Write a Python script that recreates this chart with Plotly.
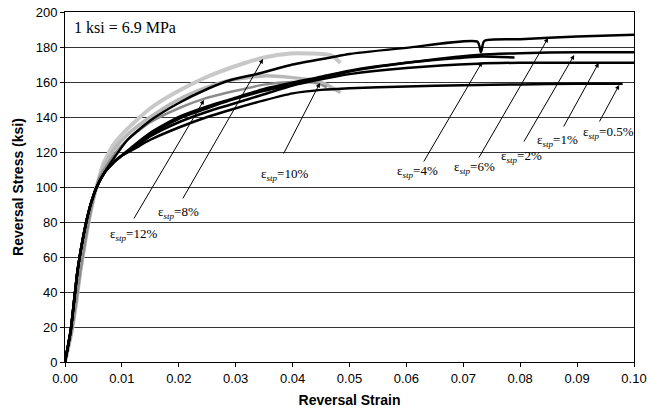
import plotly.graph_objects as go

# ---- data ----
early_black_x = [0, 0.001, 0.0016, 0.0022, 0.003, 0.0038, 0.0045, 0.0055, 0.007, 0.0085, 0.01]
early_black_y = [0, 18, 35, 52, 68, 81, 90, 99.5, 108.5, 114, 118]
early_gray_x = [0, 0.0012, 0.002, 0.0027, 0.0035, 0.0042, 0.0052, 0.006]
early_gray_y = [0, 18, 35, 52, 68, 81, 96, 105]

strain_05 = early_black_x + [0.012, 0.015, 0.02, 0.025, 0.029, 0.035, 0.04, 0.045, 0.05, 0.06, 0.07, 0.08, 0.09, 0.098]
stress_05 = early_black_y + [121.5, 127, 134, 140, 144, 149.5, 153.5, 155.5, 156.5, 157.5, 158.2, 158.6, 159, 159]

strain_1 = early_black_x + [0.012, 0.015, 0.02, 0.025, 0.029, 0.035, 0.04, 0.045, 0.05, 0.06, 0.0725, 0.08, 0.09, 0.1]
stress_1 = early_black_y + [122, 129, 137, 143, 147, 153, 158, 161.5, 164.5, 168, 170.5, 171, 171, 171]

strain_2 = early_black_x + [0.012, 0.015, 0.02, 0.025, 0.029, 0.035, 0.0437, 0.05, 0.06, 0.0725, 0.08, 0.09, 0.1]
stress_2 = early_black_y + [123, 130, 139, 145, 149.5, 155, 161, 166, 171, 175.5, 176.5, 177, 177]

strain_4 = early_black_x + [0.012, 0.015, 0.02, 0.025, 0.029, 0.035, 0.045, 0.05, 0.06, 0.0725, 0.079]
stress_4 = early_black_y + [123.5, 131, 140, 146, 150, 156, 163, 166.5, 171, 174.5, 174]

strain_6 = early_black_x[:-2] + [0.0085, 0.011, 0.015, 0.02, 0.025, 0.029, 0.0343, 0.04, 0.0467, 0.05, 0.06, 0.0725, 0.0731, 0.0737, 0.08, 0.09, 0.1]
stress_6 = early_black_y[:-2] + [116, 127, 138, 148, 156, 161, 165, 170, 174, 176, 179.5, 183, 177, 183.5, 184.5, 186, 187]

strain_8 = early_gray_x + [0.0067, 0.0085, 0.0109, 0.015, 0.02, 0.025, 0.029, 0.035, 0.0396, 0.043, 0.0467, 0.0484]
stress_8 = early_gray_y + [113, 124, 133, 145, 155, 163, 168, 174, 176.3, 176.3, 175.3, 171]

strain_10 = early_gray_x + [0.0067, 0.0085, 0.011, 0.015, 0.02, 0.025, 0.029, 0.035, 0.04, 0.0437, 0.046, 0.0484]
stress_10 = early_gray_y + [111, 121, 130, 140, 150, 157, 161, 163.5, 162.5, 161, 158.5, 154]

strain_12 = early_gray_x + [0.0067, 0.0085, 0.011, 0.015, 0.02, 0.0245, 0.03, 0.035, 0.04, 0.044, 0.046]
stress_12 = early_gray_y + [109, 118, 127, 137, 145, 150.5, 155, 158.5, 160, 159.5, 157]

label_texts = ["12%", "8%", "10%", "4%", "6%", "2%", "1%", "0.5%"]

# ---- figure ----
fig = go.Figure()

gray_series = [(strain_8, stress_8, "#c8c8c8", 4), (strain_10, stress_10, "#b8b8b8", 3.5),
               (strain_12, stress_12, "#8c8c8c", 2.5)]
black_series = [(strain_05, stress_05), (strain_1, stress_1), (strain_2, stress_2),
                (strain_4, stress_4), (strain_6, stress_6)]

for xs, ys, col, w in gray_series:
    fig.add_trace(go.Scatter(x=xs, y=ys, mode="lines",
                             line=dict(color=col, width=w, shape="spline", smoothing=0.6),
                             hoverinfo="skip"))
for xs, ys in black_series:
    fig.add_trace(go.Scatter(x=xs, y=ys, mode="lines",
                             line=dict(color="black", width=2.5, shape="spline", smoothing=0.6),
                             hoverinfo="skip"))

# annotation geometry: (label x, label y, tail x, tail y, tip x, tip y)
label_geom = [
    (0.0120, 72.6, 0.01195, 81.1, 0.02443, 149.7),
    (0.0200, 85.7, 0.02056, 92.6, 0.0348, 173.1),
    (0.0385, 106.9, 0.0383, 118.3, 0.0448, 159.4),
    (0.0619, 108.6, 0.0629, 113.7, 0.0733, 171.4),
    (0.0719, 111.4, 0.0726, 116.0, 0.0849, 185.1),
    (0.0803, 117.7, 0.0805, 125.1, 0.0895, 175.4),
    (0.0866, 126.3, 0.0875, 133.7, 0.0938, 170.9),
    (0.0956, 131.4, 0.0938, 136.6, 0.0974, 158.3),
]

annotations = []
for txt, (lx, ly, tx, ty, px, py) in zip(label_texts, label_geom):
    annotations.append(dict(x=px, y=py, ax=tx, ay=ty, xref="x", yref="y", axref="x", ayref="y",
                            text="", showarrow=True, arrowhead=2, arrowsize=0.9, arrowwidth=1,
                            arrowcolor="black", standoff=0, startstandoff=0))
    annotations.append(dict(x=lx, y=ly, xref="x", yref="y", showarrow=False,
                            text="ε<sub><i>stp</i></sub>=" + txt,
                            font=dict(family="Liberation Serif, Times New Roman, serif", size=13, color="black"),
                            xanchor="center", yanchor="middle"))

annotations.append(dict(x=0.0012, y=191, xref="x", yref="y", showarrow=False,
                        text="1 ksi = 6.9 MPa", xanchor="left", yanchor="middle",
                        font=dict(family="Liberation Serif, Times New Roman, serif", size=16, color="black")))

fig.update_layout(
    width=647, height=414,
    margin=dict(l=65, r=13, t=12, b=52),
    paper_bgcolor="white", plot_bgcolor="white",
    showlegend=False,
    annotations=annotations,
    font=dict(family="Liberation Sans, Arial, sans-serif", size=13, color="black"),
)
fig.update_xaxes(range=[0, 0.1], dtick=0.01, tickformat=".2f", showgrid=False, automargin=False,
                 ticks="outside", ticklen=4, tickcolor="black",
                 showline=True, linecolor="black", linewidth=1, mirror=True, zeroline=False,
                 title=dict(text="<b>Reversal Strain</b>", font=dict(size=14), standoff=10))
fig.update_yaxes(range=[0, 200], dtick=20, showgrid=True, gridcolor="#333333", gridwidth=1, automargin=False,
                 ticks="outside", ticklen=4, tickcolor="black",
                 showline=True, linecolor="black", linewidth=1, mirror=True, zeroline=False,
                 title=dict(text="<b>Reversal Stress (ksi)</b>", font=dict(size=14), standoff=8))

fig.write_html("out.html")
